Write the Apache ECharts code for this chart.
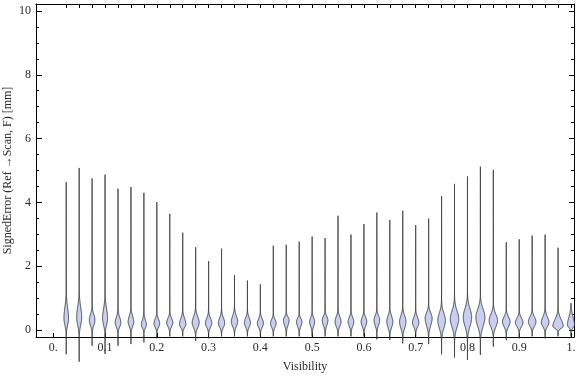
<!DOCTYPE html>
<html>
<head>
<meta charset="utf-8">
<script src="https://cdn.jsdelivr.net/npm/echarts@6/dist/echarts.min.js"></script>
<style>
  html, body { margin: 0; padding: 0; background: #fff; }
  #chart { width: 576px; height: 377px; }
</style>
</head>
<body>
<div id="chart"></div>
<script>
// violin positions (Visibility)
var vPos = [0.025, 0.05, 0.075, 0.1, 0.125, 0.15, 0.175, 0.2, 0.225, 0.25,
            0.275, 0.3, 0.325, 0.35, 0.375, 0.4, 0.425, 0.45, 0.475, 0.5,
            0.525, 0.55, 0.575, 0.6, 0.625, 0.65, 0.675, 0.7, 0.725, 0.75,
            0.775, 0.8, 0.825, 0.85, 0.875, 0.9, 0.925, 0.95, 0.975, 1.0];
// max / min of each distribution [mm]
var vMax = [4.63, 5.08, 4.75, 4.87, 4.43, 4.48, 4.30, 4.01, 3.64, 3.05,
            2.59, 2.16, 2.55, 1.72, 1.55, 1.43, 2.64, 2.67, 2.77, 2.93,
            2.88, 3.58, 2.99, 3.32, 3.68, 3.45, 3.74, 3.29, 3.49, 4.20,
            4.58, 4.81, 5.12, 5.02, 2.75, 2.84, 2.96, 2.99, 2.58, 0.84];
var vMin = [-0.76, -0.99, -0.49, -0.75, -0.49, -0.44, -0.39, -0.26, -0.2, -0.2,
            -0.34, -0.26, -0.2, -0.2, -0.2, -0.2, -0.2, -0.2, -0.2, -0.2,
            -0.2, -0.2, -0.2, -0.2, -0.29, -0.31, -0.42, -0.2, -0.44, -0.76,
            -0.86, -0.94, -0.78, -0.52, -0.32, -0.26, -0.2, -0.26, -0.2, -0.2];
// mode (widest point), upper and lower extent of the bulk
var vPeak = [0.37, 0.40, 0.31, 0.37, 0.23, 0.26, 0.16, 0.20, 0.23, 0.18,
             0.23, 0.21, 0.21, 0.26, 0.23, 0.21, 0.21, 0.31, 0.26, 0.26,
             0.31, 0.26, 0.26, 0.26, 0.31, 0.26, 0.26, 0.23, 0.37, 0.30,
             0.35, 0.40, 0.40, 0.30, 0.26, 0.23, 0.26, 0.23, 0.12, 0.16];
var vTop = [1.30, 1.30, 0.80, 1.20, 0.70, 0.75, 0.60, 0.60, 0.62, 0.68,
            0.75, 0.65, 0.68, 0.75, 0.65, 0.60, 0.55, 0.60, 0.55, 0.60,
            0.65, 0.70, 0.65, 0.65, 0.70, 0.75, 0.78, 0.68, 0.84, 0.94,
            1.05, 1.15, 1.10, 0.84, 0.68, 0.63, 0.68, 0.73, 0.70, 0.84];
var vBottom = [-0.16, -0.20, -0.10, -0.16, -0.10, -0.10, -0.08, -0.08, -0.08, -0.08,
               -0.16, -0.10, -0.10, -0.10, -0.10, -0.10, -0.10, -0.10, -0.10, -0.10,
               -0.10, -0.10, -0.10, -0.10, -0.10, -0.18, -0.24, -0.10, -0.20, -0.30,
               -0.30, -0.30, -0.30, -0.20, -0.12, -0.08, -0.08, -0.08, -0.05, -0.05];
// half width of the violin at its mode (in Visibility units)
var vWidth = [0.0054, 0.0058, 0.0064, 0.0058, 0.0064, 0.0064, 0.0058, 0.0064, 0.0068, 0.0071,
              0.0077, 0.0071, 0.0071, 0.0071, 0.0068, 0.0068, 0.0064, 0.0064, 0.0062, 0.0058,
              0.0064, 0.0068, 0.0064, 0.0064, 0.0064, 0.0068, 0.0071, 0.0071, 0.0077, 0.0083,
              0.0091, 0.0091, 0.0097, 0.0091, 0.0083, 0.0083, 0.0083, 0.0083, 0.0110, 0.0077];

var xTicks = [0, 0.1, 0.2, 0.3, 0.4, 0.5, 0.6, 0.7, 0.8, 0.9, 1];
var xTickLabels = ['0.', '0.1', '0.2', '0.3', '0.4', '0.5', '0.6', '0.7', '0.8', '0.9', '1.'];
var yTicks = [0, 2, 4, 6, 8, 10];
var yMinor = [0, 0.5, 1, 1.5, 2, 2.5, 3, 3.5, 4, 4.5, 5, 5.5, 6, 6.5, 7, 7.5, 8, 8.5, 9, 9.5, 10];

var X_MIN = -0.0334, X_MAX = 1.0058;
var Y_MIN = -0.219, Y_MAX = 10.219;
var FONT = 'Liberation Serif';
var TXT = '#2a2a2a';

var violinData = [];
for (var i = 0; i < vPos.length; i++) {
    violinData.push([vPos[i], vMin[i], vMax[i], vPeak[i], vTop[i], vBottom[i], vWidth[i]]);
}

function renderViolin(params, api) {
    var pos = api.value(0), lo = api.value(1), hi = api.value(2);
    var pk = api.value(3), top = api.value(4), bot = api.value(5), hw = api.value(6);
    // measured widths include the outline, so take half the stroke off
    var wpx = api.size([hw, 0])[0] - 0.5;
    var su = (top - pk) / 2.8, sd = (pk - bot) / 2.5;
    var left = [], right = [];
    var steps = Math.max(40, Math.ceil((hi - lo) / 0.02));
    for (var k = 0; k <= steps; k++) {
        var y = lo + (hi - lo) * k / steps;
        var z = y >= pk ? (y - pk) / su : (pk - y) / sd;
        var half = wpx * Math.exp(-0.5 * z * z);
        var p = api.coord([pos, y]);
        left.push([p[0] - half, p[1]]);
        right.unshift([p[0] + half, p[1]]);
    }
    return {
        type: 'polygon',
        shape: { points: left.concat(right) },
        style: { fill: '#c8cff3', stroke: 'rgba(50,50,55,0.85)', lineWidth: 1 }
    };
}

var myChart = echarts.init(document.getElementById('chart'));
var frame = { show: true, onZero: false, lineStyle: { color: '#000', width: 1 } };
var noLine = { show: false, onZero: false };

var option = {
    animation: false,
    grid: { left: 36, top: 4, width: 538, height: 333, containLabel: false, outerBoundsMode: 'none' },
    xAxis: [{
        type: 'value', position: 'bottom', min: X_MIN, max: X_MAX,
        axisLine: frame,
        splitLine: { show: false },
        axisTick: { inside: true, length: 4, customValues: xTicks, lineStyle: { color: '#000' } },
        axisLabel: {
            customValues: xTicks, margin: 5, color: TXT, fontFamily: FONT, fontSize: 12,
            formatter: function (v) { return xTickLabels[Math.round(v * 10)]; }
        },
        name: 'Visibility', nameLocation: 'middle', nameGap: 24, nameMoveOverlap: false,
        nameTextStyle: { color: TXT, fontFamily: FONT, fontSize: 12 }
    }, {
        type: 'value', position: 'top', min: X_MIN, max: X_MAX,
        axisLine: frame,
        splitLine: { show: false },
        axisTick: { inside: true, length: 4, customValues: vPos, lineStyle: { color: '#000' } },
        axisLabel: { show: false }
    }],
    yAxis: [{
        type: 'value', position: 'left', min: Y_MIN, max: Y_MAX,
        axisLine: frame,
        splitLine: { show: false },
        axisTick: { inside: true, length: 3, customValues: yMinor, lineStyle: { color: '#000' } },
        axisLabel: { customValues: yTicks, margin: 5, color: TXT, fontFamily: FONT, fontSize: 12 },
        name: 'SignedError (Ref \u2192Scan, F) [mm]', nameLocation: 'middle', nameGap: 22, nameMoveOverlap: false,
        nameTextStyle: { color: TXT, fontFamily: FONT, fontSize: 12 }
    }, {
        type: 'value', position: 'left', min: Y_MIN, max: Y_MAX,
        axisLine: noLine, splitLine: { show: false },
        axisTick: { inside: true, length: 6, customValues: yTicks, lineStyle: { color: '#000' } },
        axisLabel: { show: false }
    }, {
        type: 'value', position: 'right', min: Y_MIN, max: Y_MAX,
        axisLine: frame, splitLine: { show: false },
        axisTick: { inside: true, length: 3, customValues: yMinor, lineStyle: { color: '#000' } },
        axisLabel: { show: false }
    }, {
        type: 'value', position: 'right', min: Y_MIN, max: Y_MAX,
        axisLine: noLine, splitLine: { show: false },
        axisTick: { inside: true, length: 5, customValues: yTicks, lineStyle: { color: '#000' } },
        axisLabel: { show: false }
    }],
    series: [{
        type: 'custom',
        name: 'violins',
        xAxisIndex: 0,
        yAxisIndex: 0,
        clip: false,
        renderItem: renderViolin,
        encode: { x: 0, y: [1, 2] },
        data: violinData
    }]
};
myChart.setOption(option);
</script>
</body>
</html>
